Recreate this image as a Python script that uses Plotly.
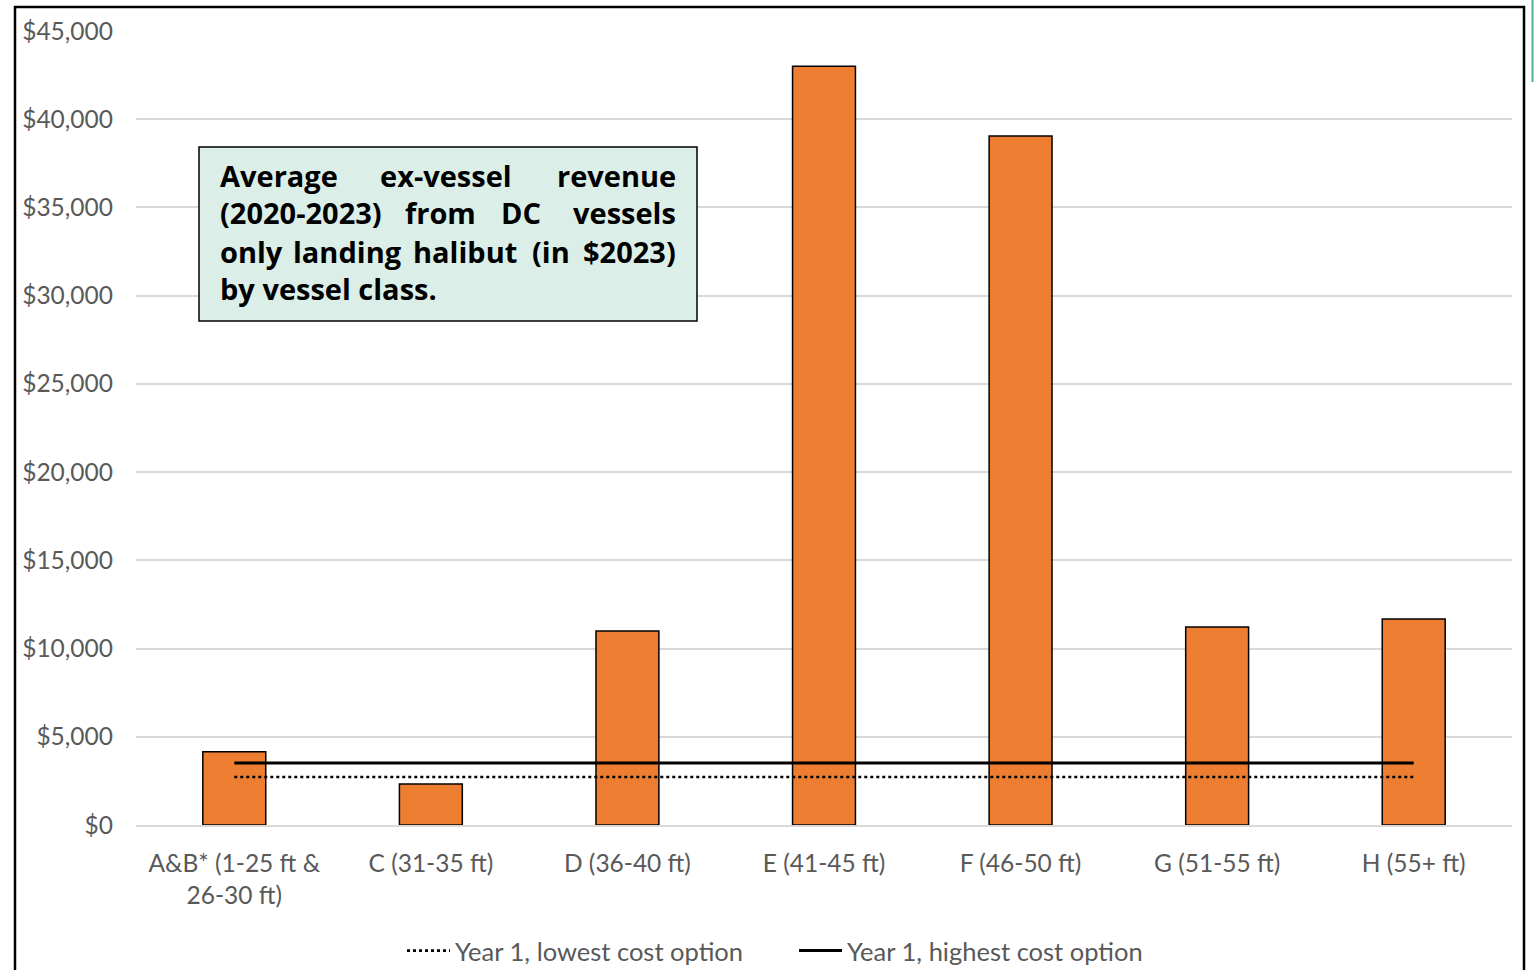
import plotly.graph_objects as go

categories = ["A&B* (1-25 ft &<br>26-30 ft)", "C (31-35 ft)", "D (36-40 ft)", "E (41-45 ft)",
              "F (46-50 ft)", "G (51-55 ft)", "H (55+ ft)"]
revenue = [4150, 2320, 11000, 43000, 39050, 11220, 11680]
lowest_cost = [2720] * len(categories)
highest_cost = [3510] * len(categories)
y_ticks = [0, 5000, 10000, 15000, 20000, 25000, 30000, 35000, 40000, 45000]
y_tick_labels = ["$0", "$5,000", "$10,000", "$15,000", "$20,000", "$25,000",
                 "$30,000", "$35,000", "$40,000", "$45,000"]

W, H = 1534, 970
L, R, T, B = 136, 1512, 31, 825
FONT = "Lato"
BOXFONT = "Open Sans"
GREY = "#595959"


def px(x):
    return (x - L) / (R - L)


def py(y):
    return (B - y) / (B - T)


fig = go.Figure()
fig.add_trace(go.Bar(x=categories, y=revenue, marker=dict(color="#ed7d31", line=dict(color="black", width=1.5)),
                     width=0.32, showlegend=False, hoverinfo="skip"))
fig.add_trace(go.Scatter(x=categories, y=lowest_cost, mode="lines", name="Year 1, lowest cost option",
                         line=dict(color="black", width=2.7, dash="dot")))
fig.add_trace(go.Scatter(x=categories, y=highest_cost, mode="lines", name="Year 1, highest cost option",
                         line=dict(color="black", width=3)))

shapes = [
    dict(type="rect", xref="paper", yref="paper", x0=px(15), x1=px(1524), y0=py(990), y1=py(7),
         line=dict(color="black", width=2.5), fillcolor="rgba(0,0,0,0)", layer="above"),
    dict(type="rect", xref="paper", yref="paper", x0=px(199), x1=px(697), y0=py(321), y1=py(147),
         line=dict(color="black", width=1.5), fillcolor="#dbefe8", layer="above"),
    dict(type="line", xref="paper", yref="paper", x0=px(1532.5), x1=px(1532.5), y0=py(82), y1=py(0),
         line=dict(color="#4fae8c", width=2)),
]

box_font = dict(family=BOXFONT, size=29, color="black", weight="bold")
words = [
    ("Average", 218, 175, "left"), ("ex-vessel", 446, 175, "center"), ("revenue", 678, 175, "right"),
    ("(2020-2023)", 218, 213, "left"), ("from", 440, 213, "center"), ("DC", 521, 213, "center"),
    ("vessels", 678, 213, "right"),
    ("only", 218, 251, "left"), ("landing", 347, 251, "center"), ("halibut", 465, 251, "center"),
    ("(in", 551, 251, "center"), ("$2023)", 678, 251, "right"),
    ("by vessel class.", 218, 289, "left"),
]
annotations = [dict(text=w, x=px(x), y=py(y), xref="paper", yref="paper", xanchor=a, yanchor="middle",
                    showarrow=False, font=box_font) for w, x, y, a in words]

fig.update_layout(
    width=W, height=H,
    margin=dict(l=L, r=W - R, t=T, b=H - B),
    paper_bgcolor="white", plot_bgcolor="white",
    font=dict(family=FONT, size=24, color=GREY),
    shapes=shapes, annotations=annotations,
    showlegend=True,
    legend=dict(orientation="h", x=px(402), xanchor="left", xref="paper",
                y=(H - 951) / H, yanchor="middle", yref="container",
                font=dict(family=FONT, size=25.5, color=GREY), itemwidth=43, entrywidth=334,
                tracegroupgap=0, bgcolor="rgba(0,0,0,0)"),
    bargap=0.68,
)
fig.update_xaxes(showgrid=False, showline=True, linecolor="#d9d9d9", linewidth=1.5, ticks="",
                 tickfont=dict(family=FONT, size=24.5, color=GREY), ticklabelstandoff=16)
fig.update_yaxes(range=[0, 45000], tickvals=y_ticks, ticktext=y_tick_labels, showgrid=True,
                 gridcolor="#d9d9d9", gridwidth=1.5, zeroline=False, showline=False, ticks="",
                 tickfont=dict(family=FONT, size=24.5, color=GREY), ticklabelstandoff=22)

fig.write_html("out.html", config={"displayModeBar": False},
               post_script="document.body.style.margin='0';document.body.style.overflow='hidden';")
